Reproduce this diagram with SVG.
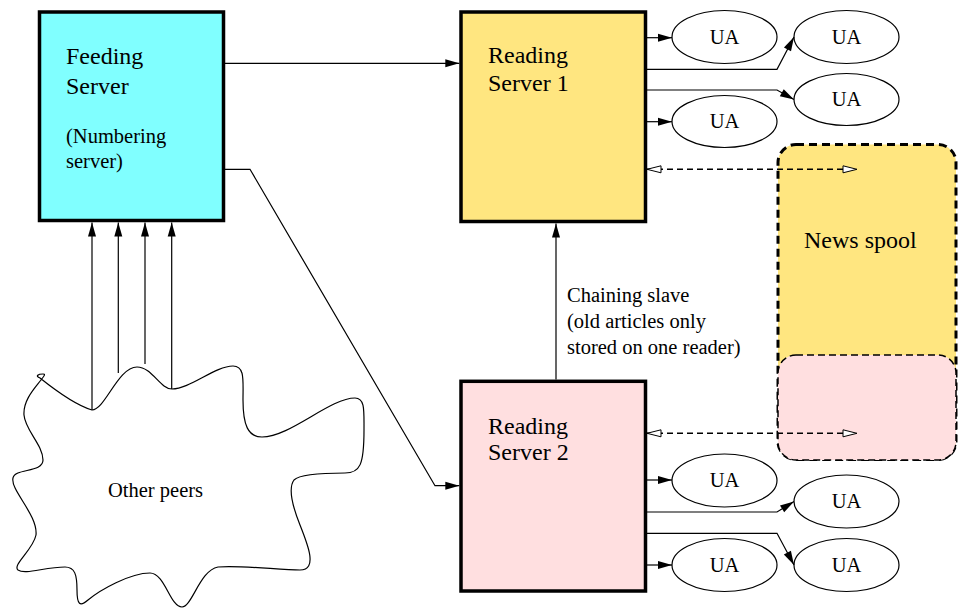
<svg xmlns="http://www.w3.org/2000/svg" width="958" height="610" viewBox="0 0 958 610">
<style>
.box{stroke:#000;stroke-width:3.5}
text{font-family:'Liberation Serif',Tinos,'Times New Roman',Times,serif;fill:#000}
.big{font-size:24px}
.small{font-size:20.5px}
.uat{font-size:20.5px;text-anchor:middle}
.ua{fill:#fff;stroke:#000;stroke-width:1.2}
.ln{fill:none;stroke:#000;stroke-width:1.2}
.arr{marker-end:url(#ah)}
.dash{fill:none;stroke:#000;stroke-width:1.5;stroke-dasharray:6 4;marker-start:url(#oh);marker-end:url(#oh)}
.yellow{fill:#ffe680}
.pink{fill:#ffdfe0}
</style>
<defs>
<marker id="ah" markerUnits="userSpaceOnUse" markerWidth="15" markerHeight="8" refX="14" refY="4" orient="auto" overflow="visible">
<path d="M0,0 L14,4 L0,8 z" fill="#000"/>
</marker>
<marker id="oh" markerUnits="userSpaceOnUse" markerWidth="16" markerHeight="9" refX="14" refY="3.5" orient="auto-start-reverse" overflow="visible">
<path d="M0,0 L14,3.5 L0,7 z" fill="#fff" stroke="#000" stroke-width="1"/>
</marker>
</defs>
<rect width="958" height="610" fill="#fff"/>

<g id="news-spool">
<rect x="778" y="144.5" width="178" height="315" rx="18" class="yellow" stroke="#000" stroke-width="3" stroke-dasharray="8 5"/>
<rect x="778" y="355" width="178" height="105" rx="18" class="pink" stroke="#000" stroke-width="1.5" stroke-dasharray="7 4"/>
<text x="804" y="248" class="big" font-family="Liberation Serif, serif">News spool</text>
</g>

<g id="feeding-server">
<rect x="39.5" y="12" width="184" height="208.5" fill="#80ffff" class="box"/>
<text x="66" y="64" class="big">Feeding</text>
<text x="66" y="94" class="big">Server</text>
<text x="66" y="143" class="small">(Numbering</text>
<text x="66" y="168" class="small">server)</text>
</g>

<g id="reading-server-1">
<rect x="461" y="12" width="184.5" height="209.5" class="box yellow"/>
<text x="488" y="63" class="big">Reading</text>
<text x="488" y="91" class="big">Server 1</text>
</g>

<g id="reading-server-2">
<rect x="461" y="381.3" width="184.5" height="209.7" class="box pink"/>
<text x="488" y="433.5" class="big">Reading</text>
<text x="488" y="460" class="big">Server 2</text>
</g>

<g id="other-peers">
<path class="ln" d="M40 378 C55 390 75 405 92 410 C105 410 118 367 137 367 C152 367 160 389 172 389 C190 389 215 366 233 366 C245 366 243 380 243 400 C243 425 248 437 262 437 C290 437 330 398 355 398 C365 398 364 410 364 430 C364 465 360 473 345 473 C330 473 300 474 294 480 C288 488 292 505 300 525 C308 545 318 570 300 570 C280 570 240 565 218 567 C200 570 192 607 182 607 C170 607 165 573 150 573 C130 573 100 590 88 600 C80 607 77 605 77 590 C77 575 75 567 65 567 C45 567 25 575 18 570 C12 565 33 550 36 535 C38 515 10 490 13 478 C15 468 43 473 43 460 C43 445 25 430 24 415 C23 400 35 388 41 380 C44 376 46 374 43 374 C38 374 35 376 40 378 Z"/>
<text x="108" y="497" class="small">Other peers</text>
</g>

<g id="ua-1"><ellipse cx="724.5" cy="37" rx="52.5" ry="26.5" class="ua"/><text x="724.5" y="43.5" class="uat">UA</text></g>
<g id="ua-2"><ellipse cx="846.5" cy="37" rx="52.5" ry="26.5" class="ua"/><text x="846.5" y="43.5" class="uat">UA</text></g>
<g id="ua-3"><ellipse cx="846.5" cy="99.5" rx="52.5" ry="26" class="ua"/><text x="846.5" y="106" class="uat">UA</text></g>
<g id="ua-4"><ellipse cx="724.5" cy="121.5" rx="52.5" ry="26" class="ua"/><text x="724.5" y="128" class="uat">UA</text></g>
<g id="ua-5"><ellipse cx="724.5" cy="480.5" rx="52.5" ry="26.5" class="ua"/><text x="724.5" y="487" class="uat">UA</text></g>
<g id="ua-6"><ellipse cx="846.5" cy="501.5" rx="52.5" ry="26.5" class="ua"/><text x="846.5" y="508" class="uat">UA</text></g>
<g id="ua-7"><ellipse cx="846.5" cy="565" rx="52.5" ry="26.5" class="ua"/><text x="846.5" y="571.5" class="uat">UA</text></g>
<g id="ua-8"><ellipse cx="724.5" cy="565" rx="52.5" ry="26.5" class="ua"/><text x="724.5" y="571.5" class="uat">UA</text></g>

<g id="connectors">
<path class="ln arr" d="M225 63.3 H459.3"/>
<path class="ln arr" d="M225 169.3 H250 L435 485.7 H459.3"/>
<path class="ln arr" d="M92 410 V222.5"/>
<path class="ln arr" d="M118.3 373 V222.5"/>
<path class="ln arr" d="M145 364 V222.5"/>
<path class="ln arr" d="M171.7 389 V222.5"/>
<path class="ln arr" d="M556 379.5 V223.5"/>
<path class="ln arr" d="M647 37.7 H672"/>
<path class="ln arr" d="M647 69.3 H777 L794 37"/>
<path class="ln arr" d="M647 90 H777 L794 99.5"/>
<path class="ln arr" d="M647 121.7 H672"/>
<path class="ln arr" d="M647 480 H672"/>
<path class="ln arr" d="M647 512 H777 L794 501.5"/>
<path class="ln arr" d="M647 533.3 H777 L794 565"/>
<path class="ln arr" d="M647 565 H672"/>
<path class="dash" d="M647 169.3 H857"/>
<path class="dash" d="M647 433.3 H857"/>
<text x="567" y="302" class="small">Chaining slave</text>
<text x="567" y="328" class="small">(old articles only</text>
<text x="567" y="354" class="small">stored on one reader)</text>
</g>
</svg>
